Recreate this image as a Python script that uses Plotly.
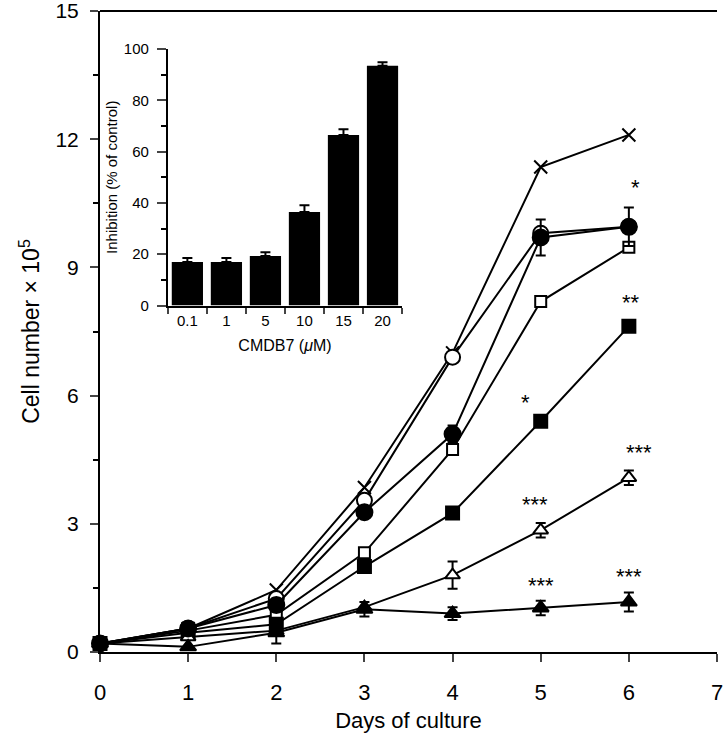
import plotly.graph_objects as go

# ---------------- data ----------------
days = [0, 1, 2, 3, 4, 5, 6]

control_cross = [0.2, 0.55, 1.45, 3.85, 7.0, 11.35, 12.1]
open_circle = [0.2, 0.55, 1.25, 3.55, 6.9, 9.8, 9.95]
filled_circle = [0.2, 0.55, 1.1, 3.27, 5.1, 9.7, 9.95]
filled_circle_err = [0, 0, 0.15, 0, 0.2, 0.42, 0.45]
open_square = [0.2, 0.5, 0.87, 2.32, 4.74, 8.2, 9.47]
filled_square = [0.2, 0.45, 0.65, 2.0, 3.25, 5.4, 7.62]
open_triangle = [0.2, 0.35, 0.5, 1.05, 1.8, 2.85, 4.08]
open_triangle_err = [0, 0, 0, 0, 0.32, 0.17, 0.17]
filled_triangle = [0.2, 0.12, 0.45, 1.0, 0.9, 1.03, 1.17]
filled_triangle_err = [0, 0, 0.25, 0.17, 0.15, 0.17, 0.22]

stars_text = ["*", "**", "*", "***", "***", "***", "***"]
stars_x = [6.08, 6.02, 4.83, 6.11, 4.94, 5.0, 6.0]
stars_y = [10.96, 8.27, 5.93, 4.77, 3.55, 1.64, 1.85]

inset_categories = ["0.1", "1", "5", "10", "15", "20"]
inset_values = [17, 17, 19.3, 36.5, 66.5, 93.5]
inset_errors = [1.5, 1.5, 1.5, 2.6, 2.2, 1.3]

x_ticks = [0, 1, 2, 3, 4, 5, 6, 7]
y_ticks = [0, 3, 6, 9, 12, 15]
inset_y_ticks = [0, 20, 40, 60, 80, 100]

FONT = "Liberation Sans, Arial, sans-serif"

fig = go.Figure()

def add_series(y, symbol, size, err=None, fill="black"):
    kw = {}
    if err is not None:
        kw["error_y"] = dict(type="data", array=err, color="black", thickness=2, width=5)
    fig.add_trace(go.Scatter(
        x=days, y=y, mode="lines+markers",
        line=dict(color="black", width=2),
        marker=dict(symbol=symbol, size=size, color=fill,
                    line=dict(color="black", width=2)),
        cliponaxis=False, showlegend=False, hoverinfo="skip", **kw))

add_series(control_cross, "x-thin", 13)
add_series(open_circle, "circle", 15, fill="white")
add_series(open_square, "square", 11, fill="white")
add_series(filled_square, "square", 13)
add_series(open_triangle, "triangle-up", 13, err=open_triangle_err, fill="white")
add_series(filled_triangle, "triangle-up", 14, err=filled_triangle_err)
add_series(filled_circle, "circle", 16, err=filled_circle_err)

for t, sx, sy in zip(stars_text, stars_x, stars_y):
    fig.add_annotation(x=sx, y=sy, xref="x", yref="y", text=t, showarrow=False,
                       yshift=-4,
                       font=dict(family=FONT, size=22, color="black"))

# inset bars
fig.add_trace(go.Bar(
    x=inset_categories, y=inset_values, xaxis="x2", yaxis="y2",
    marker=dict(color="black", line=dict(width=0)), width=0.8,
    error_y=dict(type="data", array=inset_errors, arrayminus=[0] * 6,
                 color="black", thickness=2, width=5),
    showlegend=False, hoverinfo="skip"))

# top frame line of the main plot
fig.add_shape(type="line", xref="paper", yref="paper", x0=0, x1=1, y0=1, y1=1,
              line=dict(color="black", width=2))

fig.update_layout(
    width=726, height=744,
    margin=dict(l=100, r=9, t=11, b=92),
    paper_bgcolor="white", plot_bgcolor="white",
    font=dict(family=FONT, color="black"),
    xaxis=dict(range=[0, 7], tickvals=x_ticks, ticks="outside", ticklen=8,
               tickwidth=2, showline=True, linewidth=2, linecolor="black",
               showgrid=False, zeroline=False, automargin=False,
               ticklabeloverflow="allow", ticklabelstandoff=12,
               tickfont=dict(size=22),
               title=dict(text="Days of culture", font=dict(size=22),
                          standoff=8)),
    yaxis=dict(range=[0, 15], tickvals=y_ticks, ticks="outside", ticklen=8,
               tickwidth=2, showline=True, linewidth=2, linecolor="black",
               showgrid=False, zeroline=False, automargin=False,
               ticklabeloverflow="allow", ticklabelstandoff=7,
               minor=dict(dtick=1.5, ticks="outside", ticklen=5, tickwidth=2,
                         tickcolor="black", showgrid=False),
               tickfont=dict(size=21),
               title=dict(text="Cell number \u00d7 10<sup>5</sup>",
                          font=dict(size=23), standoff=9)),
    xaxis2=dict(domain=[0.110, 0.4895], anchor="y2", type="category",
                tickson="boundaries", ticks="outside", ticklen=6, tickwidth=2,
                showline=True, linewidth=2, linecolor="black", showgrid=False,
                automargin=False,
                tickfont=dict(size=15),
                title=dict(text="CMDB7 (<i>\u03bc</i>M)", font=dict(size=16), standoff=12)),
    yaxis2=dict(domain=[0.5405, 0.9408], anchor="x2", range=[0, 100],
                tickvals=inset_y_ticks, ticks="outside", ticklen=9, tickwidth=2,
                showline=True, linewidth=2, linecolor="black", showgrid=False,
                zeroline=False, automargin=False, ticklabelstandoff=5,
                minor=dict(dtick=10, ticks="outside", ticklen=5, tickwidth=2,
                           tickcolor="black", showgrid=False),
                tickfont=dict(size=15),
                title=dict(text="Inhibition (% of control)", font=dict(size=15), standoff=3)),
    bargap=0.2,
)

fig.write_html("out.html", config={"displayModeBar": False},
               post_script="document.body.style.margin='0';")
